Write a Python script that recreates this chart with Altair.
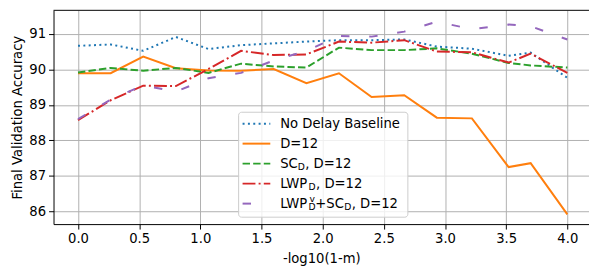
import altair as alt
import pandas as pd

# ---- data ----
x_vals = [0.0, 0.267, 0.533, 0.8, 1.067, 1.333, 1.6, 1.867, 2.133, 2.4, 2.667, 2.933, 3.22, 3.52, 3.70, 4.0]
baseline = [90.66, 90.70, 90.52, 90.91, 90.57, 90.68, 90.73, 90.78, 90.82, 90.82, 90.84, 90.64, 90.58, 90.38, 90.47, 89.76]
d12 = [89.89, 89.89, 90.36, 90.03, 89.97, 89.96, 90.01, 89.61, 89.89, 89.22, 89.27, 88.64, 88.62, 87.25, 87.36, 85.92]
sc_d = [89.91, 90.04, 89.96, 90.04, 89.90, 90.16, 90.08, 90.05, 90.61, 90.54, 90.54, 90.59, 90.44, 90.18, 90.11, 90.05]
lwp_d = [88.57, 89.13, 89.54, 89.53, 90.01, 90.52, 90.40, 90.42, 90.78, 90.75, 90.82, 90.50, 90.48, 90.19, 90.44, 89.90]
lwp_sc = [88.60, 89.15, 89.55, 89.37, 89.75, 89.90, 90.25, 90.52, 90.94, 90.92, 91.06, 91.34, 91.13, 91.26, 91.21, 90.84]

series_keys = ["base", "d12", "sc", "lwp", "lwpsc"]
series_vals = [baseline, d12, sc_d, lwp_d, lwp_sc]
colors = ["#1f77b4", "#ff7f0e", "#2ca02c", "#d62728", "#9467bd"]
dashes = [[2, 3.4], [1, 0], [7.5, 3.2], [13, 3.2, 2, 3.2], [8.5, 20]]
x_ticks = [0.0, 0.5, 1.0, 1.5, 2.0, 2.5, 3.0, 3.5, 4.0]
y_ticks = [86, 87, 88, 89, 90, 91]

rows = []
for k, vals in zip(series_keys, series_vals):
    for xv, yv in zip(x_vals, vals):
        rows.append({"series": k, "x": xv, "y": yv})
df = pd.DataFrame(rows)

W, H = 541, 216
FONT = "DejaVu Sans"
FS = 13.3

xscale = alt.Scale(domain=[-0.2, 4.177], nice=False, zero=False)
yscale = alt.Scale(domain=[85.646, 91.66], nice=False, zero=False)
xaxis = alt.Axis(values=x_ticks, format=".1f", title="-log10(1-m)", titlePadding=6, labelPadding=3)
yaxis = alt.Axis(values=y_ticks, format="d", title="Final Validation Accuracy", titlePadding=4, labelPadding=3)

layers = []
for k, c, d in zip(series_keys, colors, dashes):
    mk = dict(color=c, strokeWidth=2, clip=True)
    if k != "d12":
        mk["strokeDash"] = d
    layers.append(
        alt.Chart(df).transform_filter(alt.datum.series == k)
        .mark_line(**mk)
        .encode(x=alt.X("x:Q", scale=xscale, axis=xaxis),
                y=alt.Y("y:Q", scale=yscale, axis=yaxis))
    )

one = pd.DataFrame({"a": [0]})
deco = []
# top spine
deco.append(alt.Chart(one).mark_rule(color="black", strokeWidth=1).encode(
    x=alt.value(0), x2=alt.value(W), y=alt.value(0)))

# legend frame
LX0, LX1, LY0, LY1 = 187, 358, 103, 209
deco.append(alt.Chart(one).mark_rect(fill="white", fillOpacity=0.8, stroke="#cccccc",
                                     strokeWidth=1, cornerRadius=3).encode(
    x=alt.value(LX0), x2=alt.value(LX1), y=alt.value(LY0), y2=alt.value(LY1)))

row_y = [114.5 + 20.2 * i for i in range(5)]
for i, (c, d, k) in enumerate(zip(colors, dashes, series_keys)):
    mk = dict(color=c, strokeWidth=2)
    if k != "d12":
        mk["strokeDash"] = d
    deco.append(alt.Chart(one).mark_rule(**mk).encode(
        x=alt.value(191), x2=alt.value(219), y=alt.value(row_y[i])))


def txt(s, x, y, size=FS):
    return alt.Chart(one).mark_text(font=FONT, fontSize=size, align="left",
                                    baseline="alphabetic", color="black").encode(
        x=alt.value(x), y=alt.value(y), text=alt.value(s))


TX = 229
SUB = 9.3
b = [ry + 4.6 for ry in row_y]
deco.append(txt("No Delay Baseline", TX, b[0]))
deco.append(txt("D=12", TX, b[1]))
# SC_D, D=12
deco.append(txt("SC", TX, b[2]))
deco.append(txt("D", TX + 17.8, b[2] + 1.8, SUB))
deco.append(txt(", D=12", TX + 25.3, b[2]))
# LWP_D, D=12
deco.append(txt("LWP", TX, b[3]))
deco.append(txt("D", TX + 28.7, b[3] + 1.8, SUB))
deco.append(txt(", D=12", TX + 36.2, b[3]))
# LWP^v_D+SC_D, D=12
deco.append(txt("LWP", TX, b[4]))
deco.append(txt("v", TX + 29.6, b[4] - 6.0, SUB))
deco.append(txt("D", TX + 28.7, b[4] + 1.8, SUB))
deco.append(txt("+SC", TX + 35.5, b[4]))
deco.append(txt("D", TX + 64.8, b[4] + 1.8, SUB))
deco.append(txt(", D=12", TX + 72.2, b[4]))

chart = alt.layer(*layers, *deco).properties(
    width=W, height=H,
    autosize=alt.AutoSizeParams(type="none"),
    padding={"left": 46, "top": 1, "right": 0, "bottom": 42},
).configure_view(stroke=None).configure_axis(
    labelFont=FONT, titleFont=FONT, labelFontSize=FS, titleFontSize=FS,
    titleFontWeight="normal", labelColor="black", titleColor="black",
    tickColor="black", tickSize=5, tickWidth=1, domainColor="black", domainWidth=1,
    grid=True, gridColor="#b0b0b0", gridWidth=1,
)

chart.save("out.html", embed_options={"renderer": "svg", "actions": False})
